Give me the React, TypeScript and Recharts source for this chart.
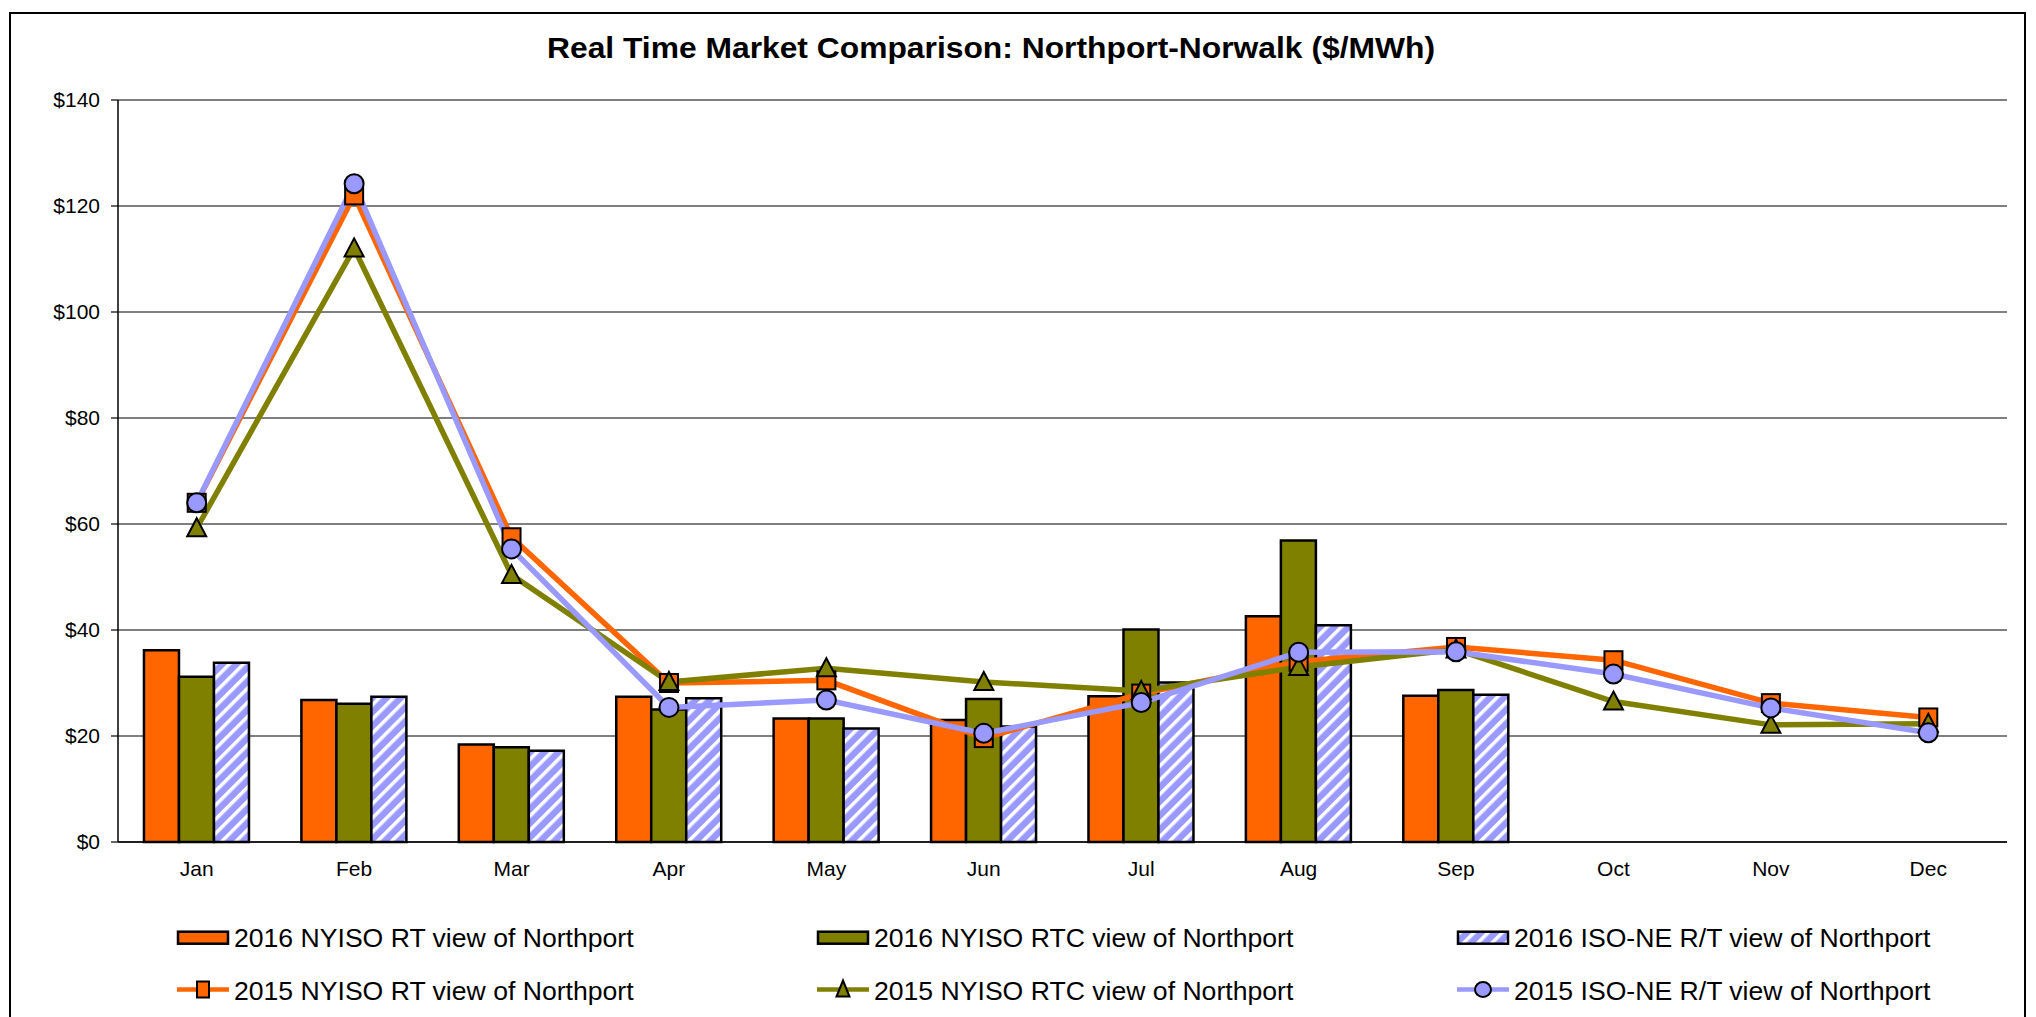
import { ComposedChart, Bar, Line, XAxis, YAxis, CartesianGrid, ReferenceLine } from 'recharts'

const months = ['Jan', 'Feb', 'Mar', 'Apr', 'May', 'Jun', 'Jul', 'Aug', 'Sep', 'Oct', 'Nov', 'Dec']

// 2016 bars (Jan-Sep only)
const rt2016 = [36.2, 26.8, 18.4, 27.4, 23.3, 23.0, 27.5, 42.6, 27.6]
const rtc2016 = [31.2, 26.1, 17.9, 25.0, 23.3, 27.0, 40.1, 56.9, 28.7]
const isone2016 = [33.8, 27.4, 17.2, 27.1, 21.4, 21.8, 30.1, 40.9, 27.8]

// 2015 lines
const rt2015 = [64.0, 122.0, 57.5, 30.0, 30.5, 19.6, 28.0, 34.0, 36.8, 34.3, 26.2, 23.5]
const rtc2015 = [59.2, 112.0, 50.4, 30.2, 32.8, 30.2, 28.5, 33.0, 36.3, 26.5, 22.1, 22.3]
const isone2015 = [64.0, 124.2, 55.3, 25.4, 26.8, 20.5, 26.3, 35.8, 35.9, 31.7, 25.3, 20.6]

const yTicks = [0, 20, 40, 60, 80, 100, 120, 140]
const boundaryTicks = [0, 1, 2, 3, 4, 5, 6, 7, 8, 9, 10, 11, 12]

const TITLE = 'Real Time Market Comparison: Northport-Norwalk ($/MWh)'
const barNames = ['2016 NYISO RT view of Northport', '2016 NYISO RTC view of Northport', '2016 ISO-NE R/T view of Northport']
const lineNames = ['2015 NYISO RT view of Northport', '2015 NYISO RTC view of Northport', '2015 ISO-NE R/T view of Northport']

const ORANGE = '#FF6600'
const OLIVE = '#808000'
const PERI = '#9999FF'
const FONT = '"Liberation Sans", Arial, Helvetica, sans-serif'

const data = months.map((m, i) => ({
  month: m,
  rt2016: rt2016[i] ?? null,
  rtc2016: rtc2016[i] ?? null,
  isone2016: isone2016[i] ?? null,
  rt2015: rt2015[i],
  rtc2015: rtc2015[i],
  isone2015: isone2015[i],
}))

function SquareDot(props: any) {
  const { cx, cy } = props
  if (cx == null || cy == null) return null
  return <rect x={cx - 9} y={cy - 9} width={18} height={18} fill={ORANGE} stroke="#000" strokeWidth={2} />
}

function TriangleDot(props: any) {
  const { cx, cy } = props
  if (cx == null || cy == null) return null
  return (
    <polygon
      points={`${cx},${cy - 10} ${cx + 9.5},${cy + 8} ${cx - 9.5},${cy + 8}`}
      fill={OLIVE}
      stroke="#000"
      strokeWidth={2}
    />
  )
}

function CircleDot(props: any) {
  const { cx, cy } = props
  if (cx == null || cy == null) return null
  return <circle cx={cx} cy={cy} r={9.5} fill={PERI} stroke="#000" strokeWidth={2} />
}

function Hatch({ id }: { id: string }) {
  return (
    <pattern id={id} patternUnits="userSpaceOnUse" width={10} height={10} patternTransform="rotate(45)">
      <rect x={0} y={0} width={10} height={10} fill={PERI} />
      <rect x={0} y={0} width={3.5} height={10} fill="#fff" />
    </pattern>
  )
}

function LegendOverlay() {
  const cols = [177, 817, 1457]
  const rows = [946.7, 1000]
  const barFills = [ORANGE, OLIVE, 'url(#legHatch)']
  const lineColors = [ORANGE, OLIVE, PERI]
  return (
    <svg width={2036} height={1017} style={{ position: 'absolute', left: 0, top: 0, pointerEvents: 'none' }}>
      <defs>
        <Hatch id="legHatch" />
      </defs>
      <text
        x={991}
        y={58.3}
        textAnchor="middle"
        fontFamily={FONT}
        fontWeight="bold"
        fontSize={30}
        textLength={888}
        lengthAdjust="spacingAndGlyphs"
        fill="#000"
      >
        {TITLE}
      </text>
      {barNames.map((name, i) => (
        <g key={name}>
          <rect x={cols[i] + 1} y={rows[0] - 15} width={50} height={12} fill={barFills[i]} stroke="#000" strokeWidth={2.5} />
          <text x={cols[i] + 57} y={rows[0]} fontFamily={FONT} fontSize={26.6} fill="#000">{name}</text>
        </g>
      ))}
      {lineNames.map((name, i) => {
        const cx = cols[i] + 26
        const cy = rows[1] - 10.5
        return (
          <g key={name}>
            <line x1={cols[i]} x2={cols[i] + 52} y1={cy} y2={cy} stroke={lineColors[i]} strokeWidth={4.5} />
            {i === 0 && <rect x={cx - 6} y={cy - 8} width={12} height={16} fill={ORANGE} stroke="#000" strokeWidth={2} />}
            {i === 1 && <polygon points={`${cx},${cy - 9} ${cx + 6.5},${cy + 7} ${cx - 6.5},${cy + 7}`} fill={OLIVE} stroke="#000" strokeWidth={2} />}
            {i === 2 && <ellipse cx={cx} cy={cy} rx={8} ry={7.5} fill={PERI} stroke="#000" strokeWidth={2} />}
            <text x={cols[i] + 57} y={rows[1]} fontFamily={FONT} fontSize={26.6} fill="#000">{name}</text>
          </g>
        )
      })}
    </svg>
  )
}

export default function App() {
  return (
    <div style={{ position: 'absolute', left: 0, top: 0, width: 2036, height: 1017, overflow: 'hidden', background: '#fff' }}>
      <div
        style={{
          position: 'absolute',
          left: 9,
          top: 12,
          width: 2017,
          height: 1100,
          border: '2px solid #000',
          boxSizing: 'border-box',
        }}
      />
      <div style={{ position: 'absolute', left: 0, top: 0 }}>
        <ComposedChart
          width={2036}
          height={1017}
          data={data}
          margin={{ top: 100, right: 29, left: 0, bottom: 135 }}
          barCategoryGap="16.5%"
          barGap={0}
        >
          <defs>
            <Hatch id="barHatch" />
          </defs>
          <XAxis
            xAxisId="bounds"
            type="number"
            domain={[0, 12]}
            ticks={boundaryTicks}
            allowDataOverflow
            interval={0}
            tick={false}
            axisLine={false}
            tickLine={{ stroke: '#000', strokeWidth: 1.2 }}
            tickSize={6}
            height={0}
          />
          <XAxis
            xAxisId="cat"
            dataKey="month"
            interval={0}
            tickLine={false}
            axisLine={{ stroke: '#000', strokeWidth: 1.5 }}
            tickSize={6}
            tickMargin={13}
            height={40}
            tick={{ fontSize: 21, fill: '#000', fontFamily: FONT }}
          />
          <YAxis
            domain={[0, 140]}
            ticks={yTicks}
            interval={0}
            width={118}
            tickFormatter={(v: number) => `$${v}`}
            tick={{ fontSize: 21, fill: '#000', fontFamily: FONT }}
            tickLine={{ stroke: '#000', strokeWidth: 1.2 }}
            axisLine={{ stroke: '#000', strokeWidth: 1.5 }}
            tickSize={7}
            tickMargin={11}
          />
          <CartesianGrid xAxisId="cat" vertical={false} stroke="#000" strokeWidth={1.2} />
          <ReferenceLine xAxisId="bounds" x={12} stroke="#808080" strokeWidth={1.5} />
          <Bar xAxisId="cat" dataKey="rt2016" fill={ORANGE} stroke="#000" strokeWidth={2.5} isAnimationActive={false} />
          <Bar xAxisId="cat" dataKey="rtc2016" fill={OLIVE} stroke="#000" strokeWidth={2.5} isAnimationActive={false} />
          <Bar xAxisId="cat" dataKey="isone2016" fill="url(#barHatch)" stroke="#000" strokeWidth={2.5} isAnimationActive={false} />
          <Line xAxisId="cat" type="linear" dataKey="rt2015" stroke={ORANGE} strokeWidth={5.5} dot={<SquareDot />} activeDot={false} isAnimationActive={false} />
          <Line xAxisId="cat" type="linear" dataKey="rtc2015" stroke={OLIVE} strokeWidth={5.5} dot={<TriangleDot />} activeDot={false} isAnimationActive={false} />
          <Line xAxisId="cat" type="linear" dataKey="isone2015" stroke={PERI} strokeWidth={5.5} dot={<CircleDot />} activeDot={false} isAnimationActive={false} />
        </ComposedChart>
      </div>
      <LegendOverlay />
    </div>
  )
}
